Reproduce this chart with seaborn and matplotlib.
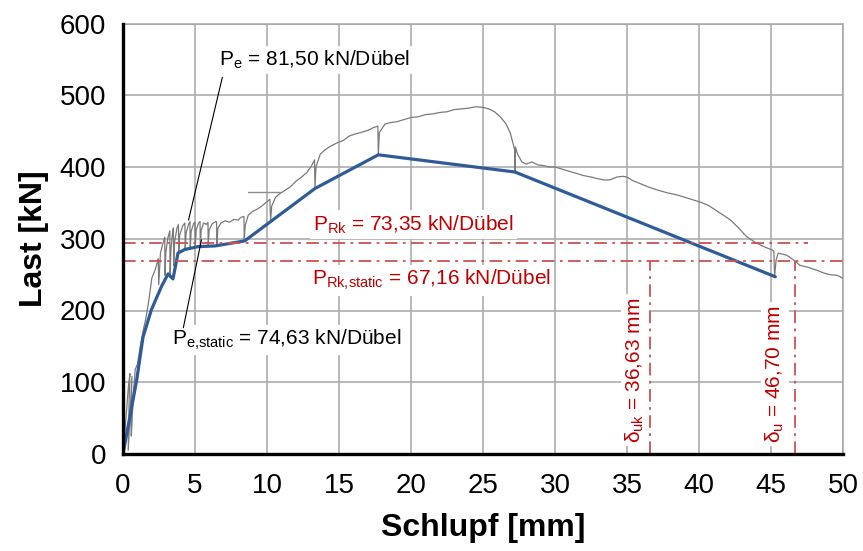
import matplotlib
matplotlib.use("Agg")
import matplotlib.pyplot as plt
import pandas as pd
import seaborn as sns

# Push-out test: measured load-slip curve (grey) and static curve (blue)
slip_test = [
    0.00, 0.12, 0.25, 0.38, 0.48, 0.42, 0.36, 0.50, 0.62, 0.55,
    0.58, 0.72, 0.85, 1.00, 1.20, 1.40, 1.60, 1.80, 2.00, 2.20,
    2.40, 2.45, 2.48, 2.60, 2.75, 2.90, 2.92, 2.97, 3.10, 3.25,
    3.27, 3.33, 3.45, 3.50, 3.52, 3.58, 3.75, 3.85, 3.87, 3.93,
    4.15, 4.30, 4.32, 4.38, 4.55, 4.65, 4.67, 4.73, 4.90, 5.00,
    5.02, 5.08, 5.25, 5.35, 5.37, 5.43, 5.60, 5.80, 5.90, 5.92,
    5.98, 6.20, 6.45, 6.50, 6.52, 6.58, 6.80, 7.10, 7.40, 7.70,
    8.00, 8.20, 8.40, 8.42, 8.48, 8.70, 9.00, 9.30, 9.60, 9.90,
    10.20, 10.25, 10.32, 10.60, 10.90, 11.20, 11.60, 12.00, 12.40, 12.80,
    13.10, 13.30, 13.33, 13.40, 13.70, 14.10, 14.50, 14.90, 15.30, 15.70,
    16.10, 16.50, 17.00, 17.40, 17.70, 17.73, 17.80, 18.20, 18.60, 19.00,
    19.50, 20.00, 20.50, 21.00, 21.50, 22.00, 22.50, 23.00, 23.50, 24.00,
    24.50, 25.00, 25.40, 25.80, 26.20, 26.60, 26.90, 27.10, 27.20, 27.22,
    27.25, 27.40, 27.70, 28.00, 28.40, 28.80, 29.20, 29.60, 30.00, 30.50,
    31.00, 31.50, 32.00, 32.50, 32.90, 33.40, 33.80, 34.30, 34.70, 35.00,
    35.40, 35.90, 36.50, 37.10, 37.80, 38.50, 39.30, 40.10, 40.60, 41.00,
    41.60, 42.20, 42.80, 43.30, 43.90, 44.50, 45.00, 45.20, 45.25, 45.35,
    45.50, 46.10, 46.60, 47.00, 47.60, 48.20, 48.70, 49.10, 49.60, 50.00,
]
load_test = [
    0, 28, 62, 95, 112, 70, 5, 60, 108, 40,
    25, 85, 118, 125, 150, 172, 190, 215, 245, 255,
    268, 272, 236, 280, 292, 302, 249, 280, 300, 311,
    246, 285, 310, 315, 262, 295, 315, 320, 281, 305,
    318, 322, 284, 308, 320, 324, 285, 310, 321, 323,
    288, 312, 322, 324, 290, 312, 322, 320, 323, 290,
    312, 321, 324, 323, 291, 314, 322, 325, 323, 327,
    326, 330, 331, 297, 318, 333, 338, 341, 345, 350,
    355, 324, 345, 358, 363, 367, 372, 380, 386, 393,
    402, 410, 371, 400, 418, 425, 430, 434, 437, 443,
    446, 448, 451, 455, 457, 417, 448, 460, 462, 463,
    466, 469, 470, 473, 474, 476, 477, 480, 481, 482,
    484, 483, 481, 477, 470, 460, 447, 432, 424, 393,
    428, 418, 407, 404, 407, 403, 402, 400, 400, 397,
    394, 391, 388, 386, 384, 382, 382, 386, 387, 386,
    381, 377, 372, 368, 364, 361, 356, 351, 347, 342,
    334, 326, 314, 303, 295, 289, 285, 283, 247, 270,
    280, 277, 270, 263, 260, 256, 252, 250, 249, 245,
]

# Short horizontal trace segment recorded during the test
trace_slip = [8.7, 10.9]
trace_load = [365, 365]

# Static (reduced) load-slip curve
slip_static = [0.0, 0.95, 1.39, 1.97, 2.66, 3.13, 3.47, 3.82, 4.28, 5.2,
               6.4, 8.45, 13.33, 17.73, 27.22, 45.3]
load_static = [0, 103, 163, 201, 233, 251, 244, 280, 285, 289,
               290, 297, 370, 417, 393, 247]

# Characteristic values (per dowel, 4 dowels per specimen)
n_dowels = 4
P_e = 81.50
P_e_static = 74.63
P_Rk = 73.35
P_Rk_static = 67.16
delta_uk = 36.63
delta_u = 46.70

xticks = list(range(0, 51, 5))
yticks = list(range(0, 601, 100))

sns.set_style("white")
plt.rcParams['font.family'] = ['Liberation Sans', 'DejaVu Sans']
plt.rcParams['mathtext.default'] = 'regular'
plt.rcParams['text.color'] = 'black'

fig = plt.figure(figsize=(8.63, 5.51), dpi=100)
ax = fig.add_axes([123 / 863, 1 - 454 / 551, 720 / 863, (454 - 23.5) / 551])

grid_c = '#a6a6a6'
red_line = '#d05050'
red_text = '#c00000'


def de(v):
    """Format a number with a decimal comma."""
    return f'{v:.2f}'.replace('.', ',')


test = pd.DataFrame({'Schlupf': slip_test, 'Last': load_test})
static = pd.DataFrame({'Schlupf': slip_static, 'Last': load_static})

sns.lineplot(data=test, x='Schlupf', y='Last', sort=False, estimator=None,
             color='#7a7a7a', lw=0.9, ax=ax, zorder=3)
sns.lineplot(x=trace_slip, y=trace_load, sort=False, estimator=None,
             color='#8c8c8c', lw=1.0, ax=ax, zorder=3)
sns.lineplot(data=static, x='Schlupf', y='Last', sort=False, estimator=None,
             color='#2f5b97', lw=2.3, ax=ax, zorder=4)

dashdot = (0, (7, 3, 1.5, 3))
# horizontal characteristic load levels
ax.plot([0, 47.6], [P_Rk * n_dowels] * 2, color=red_line, lw=1.3,
        linestyle=dashdot, zorder=6)
ax.plot([0, 50], [P_Rk_static * n_dowels] * 2, color=red_line, lw=1.3,
        linestyle=dashdot, zorder=6)
# slip capacities
for d in (delta_uk, delta_u):
    ax.plot([d, d], [0, P_Rk_static * n_dowels], color=red_line, lw=1.3,
            linestyle=dashdot, zorder=6)

box = dict(boxstyle='square,pad=0.15', fc='white', ec='none')
fs = 15

ax.text(6.67, 549, f'P$_{{e}}$ = {de(P_e)} kN/Dübel',
        fontsize=fs, color='black', ha='left', va='center', bbox=box, zorder=5)
ax.plot([6.9, 4.55], [525, P_e * n_dowels], color='black', lw=0.8, zorder=5)

ax.text(3.4, 159, f'P$_{{e{{,}}static}}$ = {de(P_e_static)} kN/Dübel',
        fontsize=fs, color='black', ha='left', va='center', bbox=box, zorder=5)
ax.plot([4.19, 5.45], [176, P_e_static * n_dowels], color='black', lw=0.8, zorder=5)

ax.text(13.2, 320, f'P$_{{Rk}}$ = {de(P_Rk)} kN/Dübel',
        fontsize=fs, color=red_text, ha='left', va='center', bbox=box, zorder=5)
ax.text(13.1, 242, f'P$_{{Rk{{,}}static}}$ = {de(P_Rk_static)} kN/Dübel',
        fontsize=fs, color=red_text, ha='left', va='center', bbox=box, zorder=5)

ax.text(35.55, 16, f'δ$_{{uk}}$ = {de(delta_uk)} mm',
        fontsize=fs, color=red_text, rotation=90, ha='center', va='bottom',
        bbox=box, zorder=5)
ax.text(45.28, 16, f'δ$_{{u}}$ = {de(delta_u)} mm',
        fontsize=fs, color=red_text, rotation=90, ha='center', va='bottom',
        bbox=box, zorder=5)

ax.set_xlim(0, 50)
ax.set_ylim(0, 600)
ax.set_xticks(xticks)
ax.set_yticks(yticks)
ax.grid(True, color=grid_c, lw=1.1, zorder=0)
ax.set_axisbelow(True)
ax.tick_params(axis='both', length=0, labelsize=20, colors='black')
ax.tick_params(axis='y', pad=12)
ax.tick_params(axis='x', pad=14)

for side in ('left', 'bottom'):
    ax.spines[side].set_color('black')
    ax.spines[side].set_linewidth(2.4)
    ax.spines[side].set_zorder(7)
for side in ('top', 'right'):
    ax.spines[side].set_color(grid_c)
    ax.spines[side].set_linewidth(1.1)

ax.set_xlabel('Schlupf [mm]', fontsize=23, fontweight='bold', color='black',
              labelpad=10)
ax.set_ylabel('Last [kN]', fontsize=23, fontweight='bold', color='black',
              labelpad=8)

fig.savefig('out.png', dpi=100, facecolor='white')
